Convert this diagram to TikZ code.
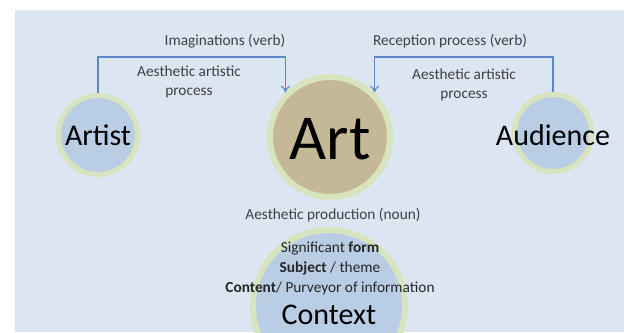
\documentclass[tikz,border=0pt]{standalone}
\usepackage{fontspec}
\setmainfont{Carlito}
\usetikzlibrary{arrows.meta}
\definecolor{slidebg}{HTML}{DCE6F2}
\definecolor{ringgreen}{HTML}{D7E4BD}
\definecolor{paleblue}{HTML}{B9CDE5}
\definecolor{arttan}{HTML}{C4B896}
\definecolor{linkblue}{HTML}{5B88C4}
\definecolor{captiongray}{HTML}{404040}
\tikzset{
  ring/.style={circle, draw=ringgreen, inner sep=0pt},
  bigword/.style={font=\fontsize{22.5}{27}\selectfont, text=black},
  caption/.style={font=\fontsize{11.5}{14.25}\selectfont, text=captiongray, align=center},
  conn/.style={draw=linkblue, line width=0.8pt, -{To[length=5pt,width=7pt]}}
}
\begin{document}
\begin{tikzpicture}[x=0.75pt,y=-0.75pt]
      \useasboundingbox (0,0) rectangle (624,332);
      \clip (0,0) rectangle (624,332);
      \fill[white] (0,0) rectangle (624,332);
      \fill[slidebg] (15,10) rectangle (624,332);
      % circles
      \node[ring, fill=paleblue, line width=3.75pt, minimum size=59.25pt] (artist) at (98,135) {};
      \node[ring, fill=arttan, line width=4.5pt, minimum size=90pt] (art) at (330,137) {};
      \node[ring, fill=paleblue, line width=3.75pt, minimum size=57.75pt] (audience) at (553,133) {};
      \node[ring, fill=paleblue, line width=4.5pt, minimum size=114pt] (context) at (329,306) {};
      \node[bigword] (artistlbl) at (artist) {Artist};
      \node[font=\fontsize{48}{56}\selectfont] (artlbl) at (330,139) {Art};
      \node[bigword] (audiencelbl) at (553,135) {Audience};
      \node[bigword] (contextlbl) at (329,315) {Context};
      % connectors
      \coordinate (rail) at (0,57);
      \draw[conn] (artist.north) |- (art.135 |- rail) -- (art.135);
      \draw[conn] (audience.north) |- (art.45 |- rail) -- (art.45);
      % captions
      \node[caption] (imagin) at (225,41) {Imaginations (verb)};
      \node[caption] (recep) at (450,41) {Reception process (verb)};
      \node[caption] (procl) at (189,81.5) {Aesthetic artistic\\process};
      \node[caption] (procr) at (464,84.5) {Aesthetic artistic\\process};
      \node[caption] (prod) at (333,215) {Aesthetic production (noun)};
      \node[caption, font=\fontsize{11.5}{15}\selectfont, text=black!85] (traits) at (330,268)
        {Significant \textbf{form}\\\textbf{Subject} / theme\\\textbf{Content}/ Purveyor of information};
\end{tikzpicture}
\end{document}
